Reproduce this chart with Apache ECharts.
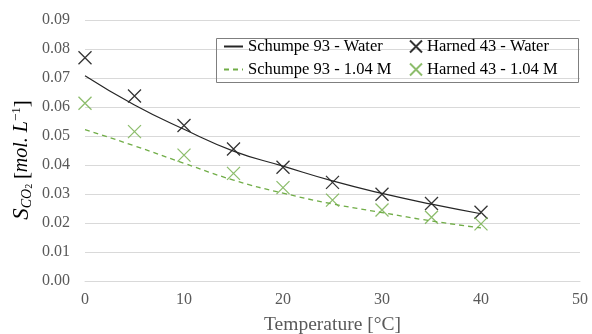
<!DOCTYPE html>
<html><head><meta charset="utf-8">
<script src="https://cdn.jsdelivr.net/npm/echarts@6/dist/echarts.min.js"></script>
<style>html,body{margin:0;padding:0;background:#fff}#c{width:592px;height:334px}</style>
</head><body><div id="c"></div>
<script>
const temps = [0, 5, 10, 15, 20, 25, 30, 35, 40];
const schumpeWater = [0.0708, 0.0607, 0.0523, 0.0448, 0.0396, 0.0345, 0.0302, 0.0265, 0.0232];
const schumpe104 = [0.0522, 0.0466, 0.0406, 0.0348, 0.0303, 0.0266, 0.0236, 0.0207, 0.0183];
const harnedWater = [0.0770, 0.0638, 0.0536, 0.0455, 0.0392, 0.0340, 0.0299, 0.0267, 0.0237];
const harned104 = [0.0613, 0.0515, 0.0434, 0.0371, 0.0322, 0.0279, 0.0245, 0.0220, 0.0197];
const xTicks = [0, 10, 20, 30, 40, 50];
const yTicks = [0, 0.01, 0.02, 0.03, 0.04, 0.05, 0.06, 0.07, 0.08, 0.09];

const pair = arr => temps.map((t, i) => [t, arr[i]]);
const FONT = 'Liberation Serif';
const GREEN = '#70ad47';
const XPATH = 'path://M0,0L10,10M10,0L0,10';
const noSym = { color: 'rgba(0,0,0,0)', borderWidth: 0, opacity: 0 };

const chart = echarts.init(document.getElementById('c'));
chart.setOption({
  animation: false,
  textStyle: { fontFamily: FONT },
  grid: { left: 85, right: 12, top: 20, bottom: 53, containLabel: false, outerBoundsMode: 'none' },
  xAxis: {
    type: 'value', min: xTicks[0], max: xTicks[xTicks.length - 1], interval: 10,
    axisLine: { show: true, lineStyle: { color: '#d9d9d9' } },
    axisTick: { show: false },
    splitLine: { show: false },
    axisLabel: { color: '#595959', fontFamily: FONT, fontSize: 16, margin: 11 },
    name: 'Temperature [°C]', nameLocation: 'middle', nameGap: 34,
    nameTextStyle: { color: '#595959', fontFamily: FONT, fontSize: 19.5 }
  },
  yAxis: {
    type: 'value', min: yTicks[0], max: yTicks[yTicks.length - 1], interval: 0.01,
    axisLine: { show: false }, axisTick: { show: false },
    splitLine: { lineStyle: { color: '#d9d9d9', width: 1 } },
    axisLabel: { color: '#595959', fontFamily: FONT, fontSize: 16, margin: 15,
      formatter: v => v.toFixed(2) }
  },
  legend: [
    {
      data: [
        { name: 'Schumpe 93 - Water', itemStyle: noSym },
        { name: 'Schumpe 93 - 1.04 M', itemStyle: noSym }
      ],
      orient: 'vertical', left: 223, top: 38, itemWidth: 19, itemHeight: 14, itemGap: 6,
      textStyle: { fontFamily: FONT, fontSize: 16.5, color: '#000' }, padding: 0
    },
    {
      data: ['Harned 43 - Water', 'Harned 43 - 1.04 M'],
      orient: 'vertical', left: 409, top: 38, itemWidth: 12, itemHeight: 12, itemGap: 6,
      textStyle: { fontFamily: FONT, fontSize: 16.5, color: '#000' }, padding: 0
    }
  ],
  graphic: [
    {
      type: 'rect', left: 214, top: 36, z: 100, silent: true,
      shape: { width: 362, height: 44 },
      style: { fill: 'none', stroke: '#7f7f7f', lineWidth: 1 }
    },
    {
      type: 'text', x: 22, y: 160, rotation: Math.PI / 2, z: 100, silent: true,
      style: {
        text: '{s|S}{sub|CO}{sub2|2} {n|[}{i|mol. L}{sup|−1}{n|]}',
        align: 'center', verticalAlign: 'middle', fill: '#000', font: '19px ' + FONT,
        rich: {
          s: { fontFamily: FONT, fontSize: 23, fontStyle: 'italic', fill: '#000' },
          sub: { fontFamily: FONT, fontSize: 14, fontStyle: 'italic', fill: '#000', padding: [10, 0, 0, 0] },
          sub2: { fontFamily: FONT, fontSize: 10, fill: '#000', padding: [15, 0, 0, 0] },
          n: { fontFamily: FONT, fontSize: 21, fill: '#000' },
          i: { fontFamily: FONT, fontSize: 20, fontStyle: 'italic', fill: '#000' },
          sup: { fontFamily: FONT, fontSize: 13, fill: '#000', padding: [0, 0, 10, 0] }
        }
      }
    }
  ],
  series: [
    {
      name: 'Schumpe 93 - Water', type: 'line', data: pair(schumpeWater), smooth: true,
      symbol: 'none', lineStyle: { color: '#262626', width: 1.2 }, itemStyle: { color: '#262626' }
    },
    {
      name: 'Schumpe 93 - 1.04 M', type: 'line', data: pair(schumpe104), smooth: true,
      symbol: 'none', lineStyle: { color: GREEN, width: 1.3, type: [5, 4] }, itemStyle: { color: GREEN }
    },
    {
      name: 'Harned 43 - Water', type: 'scatter', data: pair(harnedWater),
      symbol: XPATH, symbolSize: 13,
      itemStyle: { color: 'rgba(0,0,0,0)', borderColor: '#000', borderWidth: 1.3 }
    },
    {
      name: 'Harned 43 - 1.04 M', type: 'scatter', data: pair(harned104),
      symbol: XPATH, symbolSize: 13,
      itemStyle: { color: 'rgba(0,0,0,0)', borderColor: GREEN, borderWidth: 1.3 }
    }
  ]
});
</script></body></html>
